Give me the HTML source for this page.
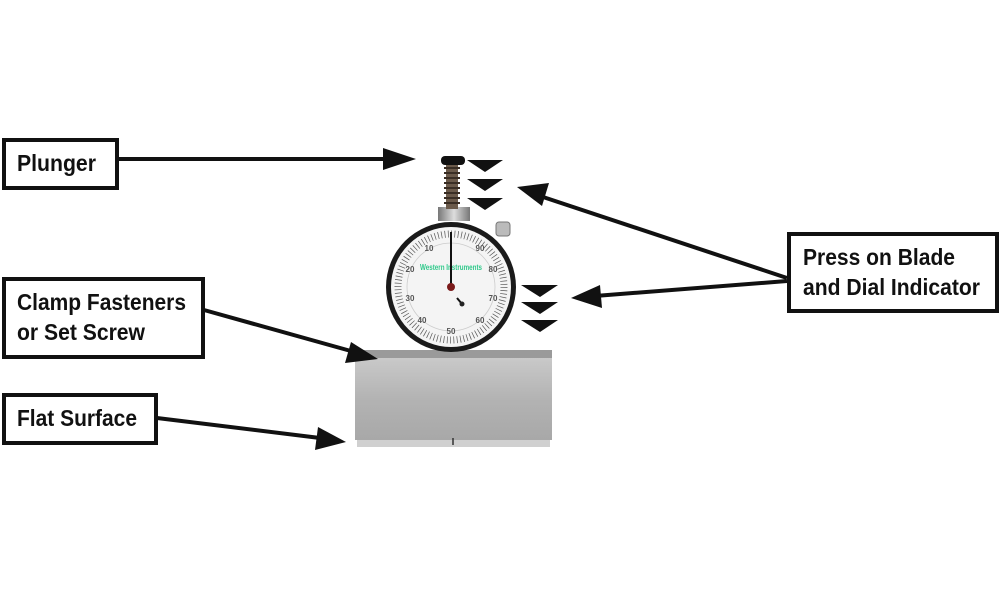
<!DOCTYPE html>
<html><head><meta charset="utf-8"><style>
html,body{margin:0;padding:0;background:#fff;width:1000px;height:600px;overflow:hidden}
text{font-family:"Liberation Sans",sans-serif;font-weight:bold}
</style></head><body>
<svg width="1000" height="600" viewBox="0 0 1000 600" xmlns="http://www.w3.org/2000/svg">
<defs>
<linearGradient id="blk" x1="0" y1="0" x2="0" y2="1">
<stop offset="0" stop-color="#c9c9c9"/><stop offset="0.5" stop-color="#b3b3b3"/><stop offset="1" stop-color="#a8a8a8"/>
</linearGradient>
<linearGradient id="met" x1="0" y1="0" x2="1" y2="0">
<stop offset="0" stop-color="#777"/><stop offset="0.5" stop-color="#ddd"/><stop offset="1" stop-color="#777"/>
</linearGradient>
</defs>
<rect width="1000" height="600" fill="#fff"/>

<rect x="355" y="350" width="197" height="10" fill="#9a9a9a"/>
<rect x="355" y="358" width="197" height="82" fill="url(#blk)"/>
<rect x="357" y="440" width="193" height="7" fill="#d0d0d0"/>
<line x1="453" y1="438" x2="453" y2="445" stroke="#333" stroke-width="1.5"/>

<rect x="438" y="207" width="32" height="14" fill="url(#met)"/>
<rect x="446" y="163" width="12" height="46" fill="#6b5a4a"/>
<path d="M444 168h16M444 173h16M444 178h16M444 183h16M444 188h16M444 193h16M444 198h16M444 203h16" stroke="#3a2e24" stroke-width="2"/>
<rect x="441" y="156" width="24" height="9" rx="4" fill="#111"/>
<rect x="496" y="222" width="14" height="14" rx="3" fill="#bbb" stroke="#777"/>

<circle cx="451" cy="287" r="65" fill="#1a1a1a"/>
<circle cx="451" cy="287" r="60" fill="#f4f4f4"/>
<circle cx="451" cy="287" r="53" fill="none" stroke="#555" stroke-width="7" stroke-dasharray="0.7 2.63"/>
<circle cx="451" cy="287" r="44" fill="none" stroke="#ccc" stroke-width="0.8"/>
<g font-size="8" fill="#555" text-anchor="middle" style="font-weight:normal">
<text x="429" y="251">10</text><text x="480" y="251">90</text>
<text x="410" y="272">20</text><text x="493" y="272">80</text>
<text x="410" y="301">30</text><text x="493" y="301">70</text>
<text x="422" y="323">40</text><text x="480" y="323">60</text>
<text x="451" y="334">50</text>
</g>
<text x="451" y="270" font-size="8" fill="#2ec98a" text-anchor="middle" textLength="62" lengthAdjust="spacingAndGlyphs">Western Instruments</text>
<line x1="451" y1="232" x2="451" y2="285" stroke="#111" stroke-width="2"/>
<circle cx="451" cy="287" r="4" fill="#7a1a1a"/>
<line x1="457" y1="298" x2="462" y2="304" stroke="#111" stroke-width="2"/>
<circle cx="462" cy="304" r="2.5" fill="#222"/>

<g fill="#111">
<polygon points="467,160 503,160 485,172"/>
<polygon points="467,179 503,179 485,191"/>
<polygon points="467,198 503,198 485,210"/>
<polygon points="521,285 558,285 540,297"/>
<polygon points="521,302 558,302 540,314"/>
<polygon points="521,320 558,320 540,332"/>
</g>

<g fill="#fff" stroke="#111" stroke-width="4">
<rect x="4" y="140" width="113" height="48"/>
<rect x="4" y="279" width="199" height="78"/>
<rect x="4" y="395" width="152" height="48"/>
<rect x="789" y="234" width="208" height="77"/>
</g>
<g font-size="23" fill="#111" lengthAdjust="spacingAndGlyphs">
<text x="17" y="171" textLength="79" lengthAdjust="spacingAndGlyphs">Plunger</text>
<text x="17" y="310" textLength="169" lengthAdjust="spacingAndGlyphs">Clamp Fasteners</text>
<text x="17" y="340" textLength="128" lengthAdjust="spacingAndGlyphs">or Set Screw</text>
<text x="17" y="426" textLength="120" lengthAdjust="spacingAndGlyphs">Flat Surface</text>
<text x="803" y="265" textLength="152" lengthAdjust="spacingAndGlyphs">Press on Blade</text>
<text x="803" y="295" textLength="177" lengthAdjust="spacingAndGlyphs">and Dial Indicator</text>
</g>

<g stroke="#111" stroke-width="4" fill="none">
<line x1="118" y1="159" x2="390" y2="159"/>
<line x1="204" y1="310" x2="358" y2="353"/>
<line x1="157" y1="418" x2="320" y2="438"/>
<line x1="787" y1="278" x2="540" y2="196"/>
<line x1="787" y1="281" x2="595" y2="296"/>
</g>
<g fill="#111">
<polygon points="416,159 383,148 383,170"/>
<polygon points="378,359 351,342 345,363"/>
<polygon points="346,442 318,427 315,450"/>
<polygon points="517,187 549,183 542,206"/>
<polygon points="571,298 600,285 602,308"/>
</g>
</svg>
</body></html>
